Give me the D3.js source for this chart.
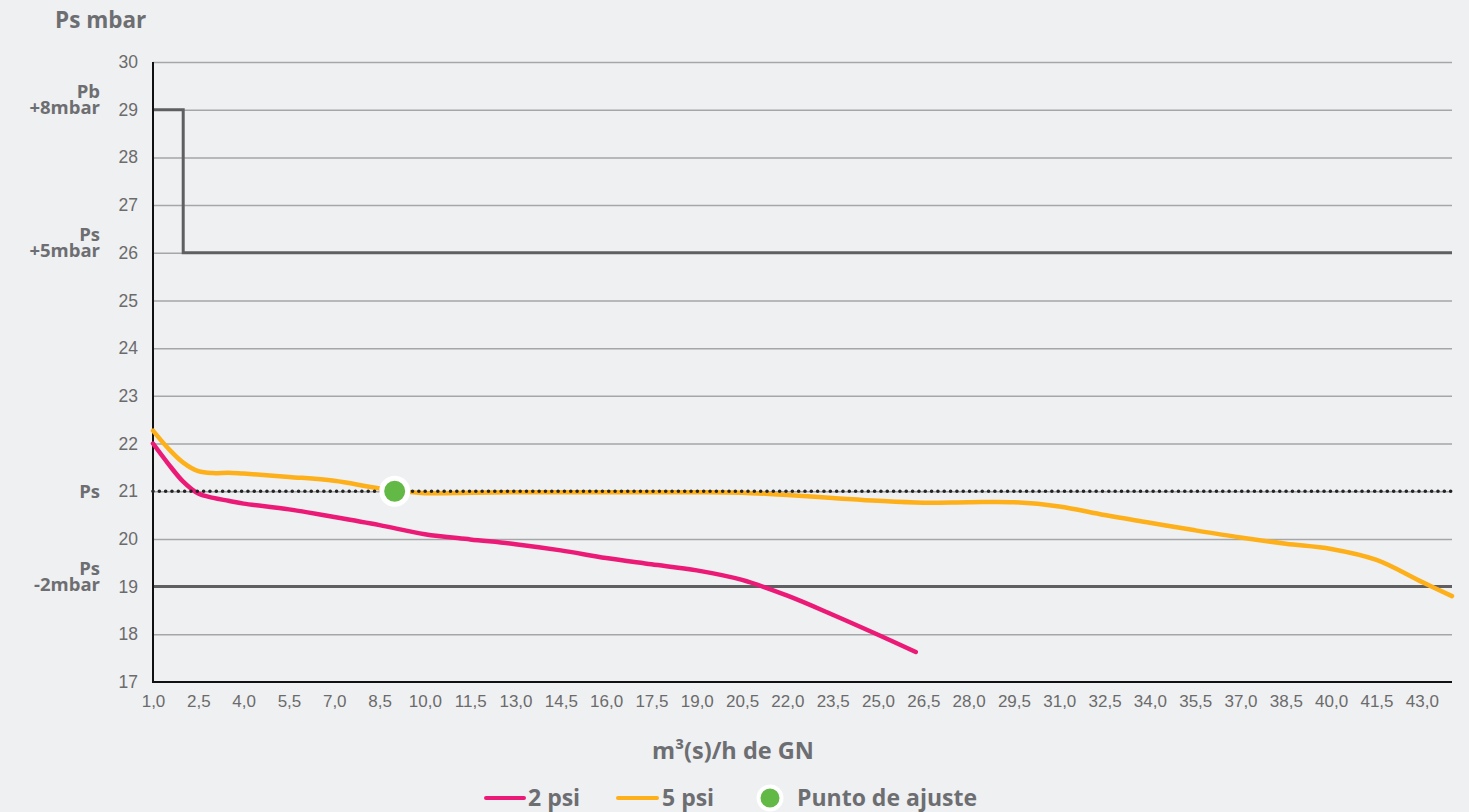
<!DOCTYPE html>
<html>
<head>
<meta charset="utf-8">
<script src="https://cdn.jsdelivr.net/npm/d3@7"></script>
<style>
  html, body { margin: 0; padding: 0; background: #eff0f2; }
  svg { display: block; }
</style>
</head>
<body>
<svg id="chart" width="1469" height="812"></svg>
<script>
// ---- data ----
const xTicks = [1.0,2.5,4.0,5.5,7.0,8.5,10.0,11.5,13.0,14.5,16.0,17.5,19.0,20.5,22.0,23.5,25.0,26.5,28.0,29.5,31.0,32.5,34.0,35.5,37.0,38.5,40.0,41.5,43.0];
const yTicks = [17,18,19,20,21,22,23,24,25,26,27,28,29,30];

const psi2X = [1.0,1.5,2.0,2.5,3.0,3.5,4.0,5.5,7.0,8.5,10.0,11.5,13.0,14.5,16.0,17.5,19.0,20.5,22.0,23.5,25.0,26.25];
const psi2Y = [22.0,21.58,21.2,20.95,20.86,20.8,20.74,20.62,20.46,20.29,20.1,19.99,19.89,19.76,19.6,19.47,19.34,19.14,18.81,18.41,17.99,17.63];

const psi5X = [1.0,1.5,2.0,2.5,3.0,3.5,4.0,5.5,7.0,8.5,10.0,11.5,13.0,14.5,16.0,17.5,19.0,20.5,22.0,23.5,25.0,26.5,28.0,29.5,31.0,32.5,34.0,35.5,37.0,38.5,40.0,41.5,43.0,44.0];
const psi5Y = [22.27,21.9,21.6,21.42,21.38,21.39,21.37,21.3,21.22,21.06,20.96,20.97,20.98,20.98,20.98,20.98,20.98,20.97,20.92,20.86,20.8,20.76,20.77,20.77,20.68,20.5,20.34,20.18,20.03,19.9,19.79,19.56,19.1,18.8];

// Upper limit step line (Pb +8mbar then Ps +5mbar)
const limitX = [1.0, 2.0, 2.0, 44.0];
const limitY = [29, 29, 26, 26];
const lowerLimit = 19;   // Ps -2mbar
const setPressure = 21;  // Ps
const adjustPoint = { x: 9.0, y: 21.0 };

const sideLabels = [
  { value: 29, lines: ["Pb", "+8mbar"] },
  { value: 26, lines: ["Ps", "+5mbar"] },
  { value: 21, lines: ["Ps"] },
  { value: 19, lines: ["Ps", "-2mbar"] }
];

const legendItems = ["2 psi", "5 psi", "Punto de ajuste"];

// ---- chart ----
(function () {
const svg = d3.select("#chart");
const pLeft = 153, pRight = 1452, pTop = 62, pBottom = 682;
const x = d3.scaleLinear().domain([1, 44]).range([pLeft, pRight]);
const y = d3.scaleLinear().domain([17, 30]).range([pBottom, pTop]);

const gray = "#6d6e71";
const boldFont = "'Open Sans', Lato, sans-serif";
const tickFont = "'Liberation Sans', Arial, sans-serif";

// gridlines
svg.append("g")
  .attr("transform", `translate(${pLeft},0)`)
  .call(d3.axisLeft(y).tickValues(yTicks.filter(v => v > 17)).tickSize(-(pRight - pLeft)).tickFormat(""))
  .call(g => g.select(".domain").remove())
  .call(g => g.selectAll("line").attr("stroke", "#a6a6a8").attr("stroke-width", 1.5));

// y tick labels
svg.append("g")
  .attr("transform", `translate(${pLeft},0)`)
  .call(d3.axisLeft(y).tickValues(yTicks).tickSize(0).tickPadding(15).tickFormat(d3.format("d")))
  .call(g => g.select(".domain").remove())
  .call(g => g.selectAll("text").style("font-family", tickFont).style("font-size", "17.5px").attr("fill", "#6b6b6b"));

// x tick labels
svg.append("g")
  .attr("transform", `translate(0,${pBottom})`)
  .call(d3.axisBottom(x).tickValues(xTicks).tickSize(0).tickPadding(13)
    .tickFormat(d => d.toFixed(1).replace(".", ",")))
  .call(g => g.select(".domain").remove())
  .call(g => g.selectAll("text").style("font-family", tickFont).style("font-size", "17px").attr("fill", "#6b6b6b"));

// lower limit line
svg.append("line")
  .attr("x1", x(1)).attr("x2", x(44))
  .attr("y1", y(lowerLimit)).attr("y2", y(lowerLimit))
  .attr("stroke", "#5f5f61").attr("stroke-width", 3);

// upper limit step line
const lineGen = d3.line().x(d => x(d[0])).y(d => y(d[1]));
svg.append("path")
  .datum(limitX.map((v, i) => [v, limitY[i]]))
  .attr("d", lineGen)
  .attr("fill", "none").attr("stroke", "#5f5f61").attr("stroke-width", 3);

// axes lines
svg.append("line").attr("x1", pLeft).attr("x2", pLeft).attr("y1", pTop).attr("y2", pBottom + 1)
  .attr("stroke", "#111").attr("stroke-width", 2);
svg.append("line").attr("x1", pLeft - 1).attr("x2", pRight).attr("y1", pBottom).attr("y2", pBottom)
  .attr("stroke", "#111").attr("stroke-width", 2);

// curves
const curveGen = d3.line().x(d => x(d[0])).y(d => y(d[1])).curve(d3.curveCatmullRom.alpha(0.5));
svg.append("path")
  .datum(psi5X.map((v, i) => [v, psi5Y[i]]))
  .attr("d", curveGen)
  .attr("fill", "none").attr("stroke", "#fdb019").attr("stroke-width", 4.5)
  .attr("stroke-linecap", "round").attr("stroke-linejoin", "round");
svg.append("path")
  .datum(psi2X.map((v, i) => [v, psi2Y[i]]))
  .attr("d", curveGen)
  .attr("fill", "none").attr("stroke", "#ec1a77").attr("stroke-width", 4.5)
  .attr("stroke-linecap", "round").attr("stroke-linejoin", "round");

// dotted set-pressure line
svg.append("line")
  .attr("x1", x(1)).attr("x2", x(44))
  .attr("y1", y(setPressure)).attr("y2", y(setPressure))
  .attr("stroke", "#222").attr("stroke-width", 3.6)
  .attr("stroke-linecap", "round").attr("stroke-dasharray", "0 6.33");

// adjustment point
svg.append("circle")
  .attr("cx", x(adjustPoint.x)).attr("cy", y(adjustPoint.y)).attr("r", 13)
  .attr("fill", "#62b946").attr("stroke", "#fff").attr("stroke-width", 5);

// side labels
sideLabels.forEach(s => {
  const n = s.lines.length;
  s.lines.forEach((t, i) => {
    svg.append("text")
      .attr("x", 100)
      .attr("y", y(s.value) + (n > 1 ? 4 : 7) - (n - 1 - i) * 16)
      .attr("text-anchor", "end")
      .attr("font-family", boldFont).attr("font-weight", 700)
      .attr("font-size", 18.5).attr("fill", gray)
      .text(t);
  });
});

// titles
svg.append("text").attr("x", 55).attr("y", 28)
  .attr("font-family", boldFont).attr("font-weight", 700).attr("font-size", 22.5).attr("fill", gray)
  .text("Ps mbar");
svg.append("text").attr("x", 733).attr("y", 759).attr("text-anchor", "middle")
  .attr("font-family", boldFont).attr("font-weight", 700).attr("font-size", 23.5).attr("fill", gray)
  .text("m³(s)/h de GN");

// legend
const ly = 798;
const legend = svg.append("g");
const lfs = 23;
legend.append("line").attr("x1", 486).attr("x2", 524).attr("y1", ly).attr("y2", ly)
  .attr("stroke", "#ec1a77").attr("stroke-width", 4).attr("stroke-linecap", "round");
legend.append("text").attr("x", 528).attr("y", ly + 8)
  .attr("font-family", boldFont).attr("font-weight", 700).attr("font-size", lfs).attr("fill", gray).text(legendItems[0]);
legend.append("line").attr("x1", 618).attr("x2", 657).attr("y1", ly).attr("y2", ly)
  .attr("stroke", "#fdb019").attr("stroke-width", 4).attr("stroke-linecap", "round");
legend.append("text").attr("x", 662).attr("y", ly + 8)
  .attr("font-family", boldFont).attr("font-weight", 700).attr("font-size", lfs).attr("fill", gray).text(legendItems[1]);
legend.append("circle").attr("cx", 770).attr("cy", ly).attr("r", 11.5)
  .attr("fill", "#62b946").attr("stroke", "#fff").attr("stroke-width", 4);
legend.append("text").attr("x", 797).attr("y", ly + 8)
  .attr("font-family", boldFont).attr("font-weight", 700).attr("font-size", lfs).attr("fill", gray).text(legendItems[2]);
})();
</script>
</body>
</html>
